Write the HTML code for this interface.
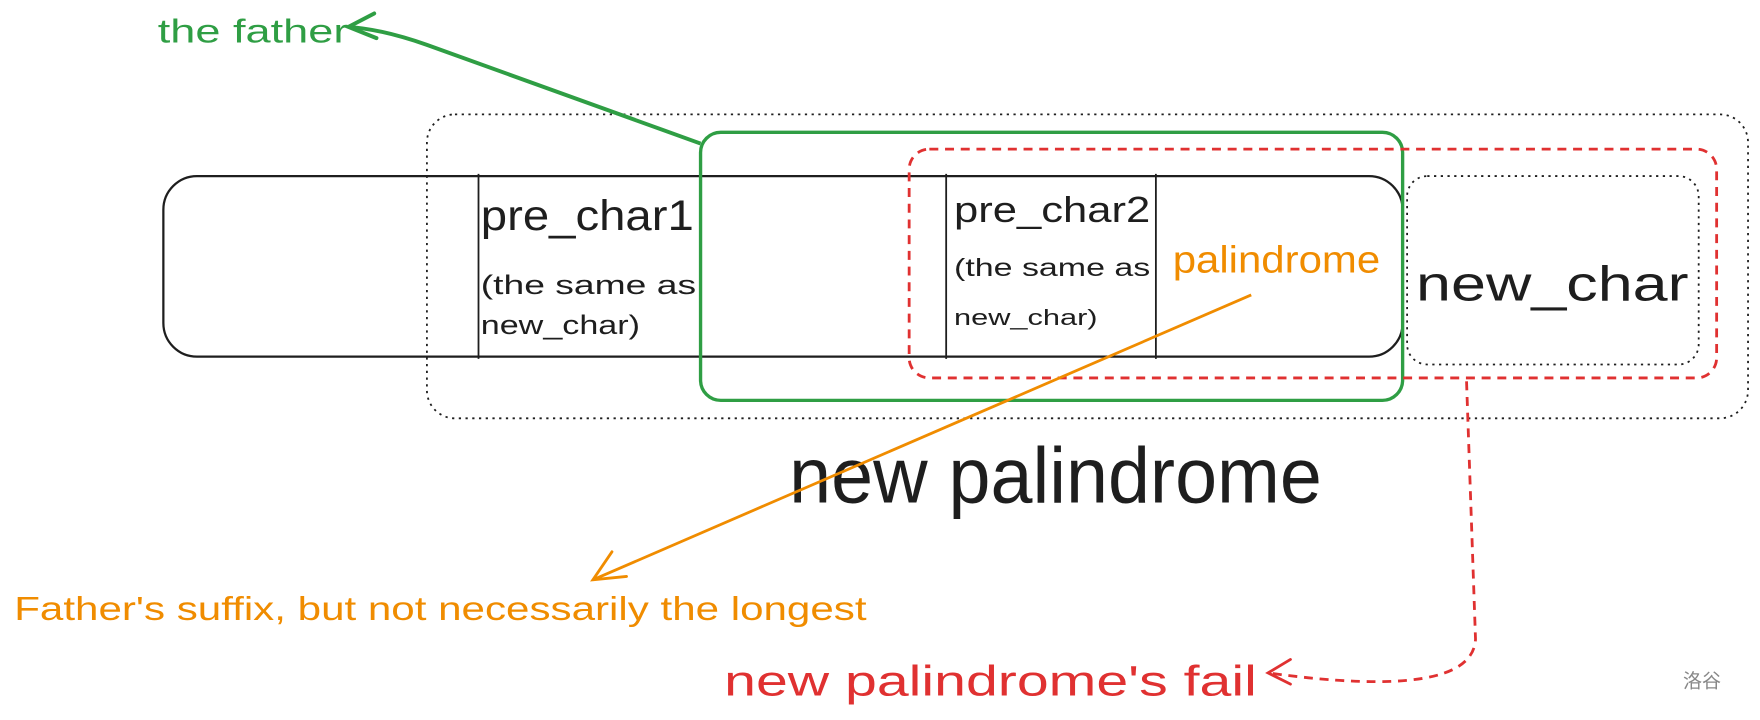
<!DOCTYPE html>
<html><head><meta charset="utf-8"><style>
html,body{margin:0;padding:0;background:#fff;}
svg{display:block;}
text{font-family:"Liberation Sans","Noto Sans CJK SC",sans-serif;}
</style></head><body>
<svg width="1760" height="720" viewBox="0 0 1568 642" xmlns="http://www.w3.org/2000/svg">
<rect x="380" y="102" width="1178" height="271" rx="25" fill="none" stroke="#1e1e1e" stroke-width="1.6" stroke-dasharray="2 4"/>
<rect x="145" y="157" width="1105" height="161" rx="30" fill="none" stroke="#1e1e1e" stroke-width="2"/>
<line x1="426" y1="155" x2="426" y2="320" stroke="#1e1e1e" stroke-width="1.6"/>
<line x1="843" y1="155" x2="843" y2="320" stroke="#1e1e1e" stroke-width="1.6"/>
<line x1="1030" y1="155" x2="1030" y2="320" stroke="#1e1e1e" stroke-width="1.6"/>
<rect x="1254" y="157" width="260" height="168" rx="18" fill="none" stroke="#1e1e1e" stroke-width="1.6" stroke-dasharray="2 4"/>
<rect x="624" y="118" width="626" height="239" rx="18" fill="none" stroke="#2f9e44" stroke-width="3"/>
<rect x="810" y="133" width="720" height="204" rx="18" fill="none" stroke="#e03131" stroke-width="2.5" stroke-dasharray="8 6"/>
<text x="428" y="205" font-size="38" fill="#1e1e1e" textLength="190" lengthAdjust="spacingAndGlyphs">pre_char1</text>
<text x="428" y="262" font-size="24" fill="#1e1e1e" textLength="192" lengthAdjust="spacingAndGlyphs">(the same as</text>
<text x="428" y="298" font-size="24" fill="#1e1e1e" textLength="142" lengthAdjust="spacingAndGlyphs">new_char)</text>
<text x="850" y="198" font-size="32" fill="#1e1e1e" textLength="175" lengthAdjust="spacingAndGlyphs">pre_char2</text>
<text x="850" y="246" font-size="22" fill="#1e1e1e" textLength="175" lengthAdjust="spacingAndGlyphs">(the same as</text>
<text x="850" y="290" font-size="20" fill="#1e1e1e" textLength="128" lengthAdjust="spacingAndGlyphs">new_char)</text>
<text x="1045" y="243" font-size="34" fill="#f08c00" textLength="185" lengthAdjust="spacingAndGlyphs">palindrome</text>
<text x="1262" y="268" font-size="44" fill="#1e1e1e" textLength="243" lengthAdjust="spacingAndGlyphs">new_char</text>
<text x="703" y="448" font-size="70" fill="#1e1e1e" textLength="475" lengthAdjust="spacingAndGlyphs">new palindrome</text>
<text x="140" y="38" font-size="30" fill="#2f9e44" textLength="170" lengthAdjust="spacingAndGlyphs">the father</text>
<text x="12" y="553" font-size="30" fill="#f08c00" textLength="760" lengthAdjust="spacingAndGlyphs">Father's suffix, but not necessarily the longest</text>
<text x="645" y="620" font-size="38" fill="#e03131" textLength="475" lengthAdjust="spacingAndGlyphs">new palindrome's fail</text>
<text x="1500" y="613" font-size="17" fill="#888">洛谷</text>
<path d="M624 128 L380 40 Q340 26 310 24" fill="none" stroke="#2f9e44" stroke-width="3.5"/>
<path d="M333 12 L310 24 L335 34" fill="none" stroke="#2f9e44" stroke-width="3.5" stroke-linecap="round"/>
<path d="M1115 263 L528 517" fill="none" stroke="#f08c00" stroke-width="2.5"/>
<path d="M545 492 L528 517 L558 514" fill="none" stroke="#f08c00" stroke-width="2.5" stroke-linecap="round"/>
<path d="M1307 340 L1315 570 Q1312 625 1130 600" fill="none" stroke="#e03131" stroke-width="2.5" stroke-dasharray="8 6"/>
<path d="M1150 588 L1130 600 L1150 610" fill="none" stroke="#e03131" stroke-width="2.5" stroke-linecap="round"/>
</svg>
</body></html>
